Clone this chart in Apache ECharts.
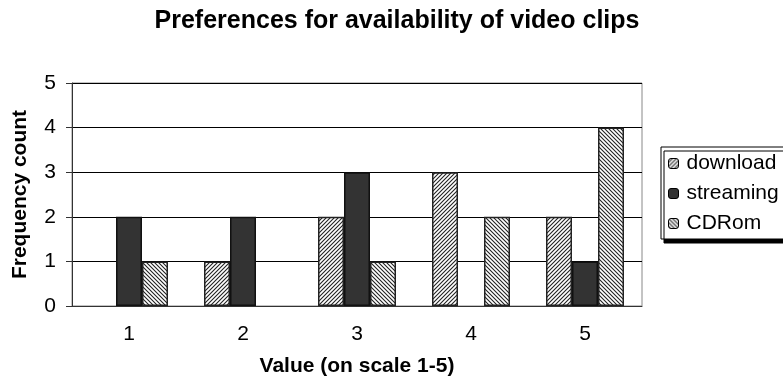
<!DOCTYPE html>
<html><head><meta charset="utf-8">
<script src="https://cdn.jsdelivr.net/npm/echarts@6/dist/echarts.min.js"></script>
<style>html,body{margin:0;padding:0;background:#fff}#c{width:783px;height:387px}</style>
</head><body><div id="c"></div>
<script>
const categories = ['1','2','3','4','5'];
const download = [0, 1, 2, 3, 2];
const streaming = [2, 2, 3, 0, 1];
const cdrom = [1, 0, 1, 2, 4];
const yTicks = [0,1,2,3,4,5];

function hatch(dir){
  const s = 4, c = document.createElement('canvas');
  c.width = s; c.height = s;
  const g = c.getContext('2d');
  g.fillStyle = '#fff'; g.fillRect(0,0,s,s);
  g.strokeStyle = '#222'; g.lineWidth = 1.1;
  g.beginPath();
  if (dir > 0) {
    g.moveTo(-1, s+1); g.lineTo(s+1, -1);
    g.moveTo(-1, 1); g.lineTo(1, -1);
    g.moveTo(s-1, s+1); g.lineTo(s+1, s-1);
  } else {
    g.moveTo(-1, -1); g.lineTo(s+1, s+1);
    g.moveTo(s-1, -1); g.lineTo(s+1, 1);
    g.moveTo(-1, s-1); g.lineTo(1, s+1);
  }
  g.stroke();
  return c;
}
const nz = a => a.map(v => v === 0 ? null : v);
const font = 'Liberation Sans, Arial, sans-serif';
const chart = echarts.init(document.getElementById('c'), null, {renderer:'canvas'});
chart.setOption({
  animation:false,
  title:{text:'Preferences for availability of video clips', left:392, top:4, textAlign:'center',
    textStyle:{fontFamily:font, fontSize:25, fontWeight:'bold', color:'#000'}},
  grid:{left:72, right:141, top:83, bottom:81, show:true, borderColor:'#888', borderWidth:1},
  legend:{orient:'vertical', left:661, top:147, itemWidth:10, itemHeight:10, itemGap:9,
    padding:[6,30,5,7], borderColor:'#000', borderWidth:1, backgroundColor:'#fff',
    shadowColor:'#000', shadowOffsetX:3, shadowOffsetY:4, shadowBlur:0,
    textStyle:{fontFamily:font, fontSize:21, color:'#000', padding:[0,0,0,3]},
    itemStyle:{borderColor:'#000', borderWidth:1}},
  xAxis:{type:'category', data:categories, name:'Value (on scale 1-5)', nameLocation:'middle', nameGap:50,
    nameTextStyle:{fontFamily:font, fontSize:21, fontWeight:'bold', color:'#000'},
    axisLine:{lineStyle:{color:'#333', width:1}}, axisTick:{length:5, lineStyle:{color:'#333'}},
    axisLabel:{fontFamily:font, fontSize:21, color:'#000', margin:18}},
  yAxis:{type:'value', min:0, max:5, interval:1, name:'Frequency count', nameLocation:'middle', nameGap:41,
    nameTextStyle:{fontFamily:font, fontSize:21, fontWeight:'bold', color:'#000'},
    axisLine:{show:true, lineStyle:{color:'#333', width:1}}, axisTick:{show:true, length:6, lineStyle:{color:'#333'}},
    axisLabel:{fontFamily:font, fontSize:21, color:'#000', margin:16, formatter:v=>yTicks.includes(v)?String(v):''},
    splitLine:{lineStyle:{color:'#000', width:1}}},
  series:[
    {name:'download', type:'bar', data:nz(download), barWidth:26, barGap:'0%',
      itemStyle:{color:{image:hatch(1), repeat:'repeat'}, borderColor:'#222', borderWidth:1.5}},
    {name:'streaming', type:'bar', data:nz(streaming), barWidth:26, barGap:'0%',
      itemStyle:{color:'#333333', borderColor:'#111', borderWidth:1.5}},
    {name:'CDRom', type:'bar', data:nz(cdrom), barWidth:26, barGap:'0%',
      itemStyle:{color:{image:hatch(-1), repeat:'repeat'}, borderColor:'#222', borderWidth:1.5}}
  ]
});
</script></body></html>
